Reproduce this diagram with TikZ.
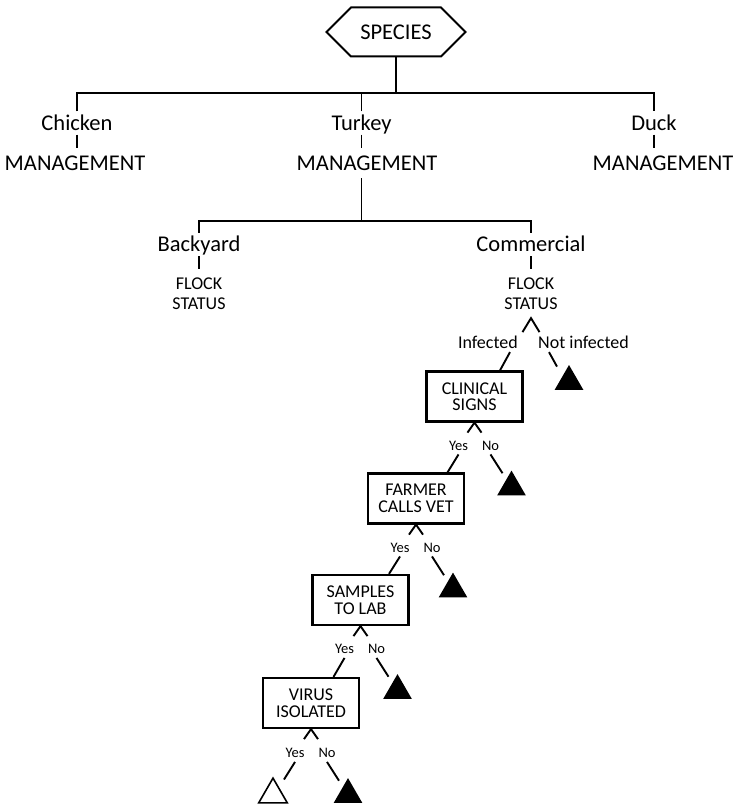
\documentclass[tikz,border=0pt]{standalone}
\usepackage{fontspec}
\setmainfont{Carlito}
\usetikzlibrary{shapes.geometric, shapes.symbols, positioning, calc}
\newcommand\bigtext{\fontsize{22.5}{27}\selectfont}
\newcommand\midtext{\fontsize{18}{20}\selectfont}
\newcommand\boxtext{\fontsize{18}{16.5}\selectfont}
\newcommand\smalltext{\fontsize{14.5}{16}\selectfont}
\tikzset{
  category/.style={font=\bigtext, text height=14pt, text depth=0pt, inner xsep=1pt, inner ysep=4.5pt},
  mgmt/.style={category, inner ysep=8pt},
  status/.style={font=\midtext, align=center, inner xsep=1pt, inner ysep=8.5pt},
  question/.style={draw, line width=2.2pt, minimum width=96pt, minimum height=50pt,
    align=center, font=\boxtext, inner sep=1pt},
  outcome/.style={font=\midtext, text height=11.6pt, text depth=0pt, inner xsep=1pt, inner ysep=3pt},
  answer/.style={font=\smalltext, text height=9.3pt, text depth=0pt, inner xsep=1pt, inner ysep=4pt},
  leaf/.style={regular polygon, regular polygon sides=3, minimum size=33pt, inner sep=0pt, fill=black},
  openleaf/.style={leaf, fill=none, draw, line width=1.6pt},
  branch/.style={line width=1.9pt}
}

\begin{document}
\begin{tikzpicture}[x=1pt, y=-1pt]
    \useasboundingbox (0,0) rectangle (735,808);
    % species and management
    \node[draw, signal, signal to=west and east, line width=2pt, minimum width=139pt,
      minimum height=49pt, font=\bigtext, inner sep=0pt] (species) at (396,32) {SPECIES};
    \node[category] (chicken) at (77,123) {Chicken};
    \node[category] (turkey) at (361.5,123) {Turkey};
    \node[category] (duck) at (654,123) {Duck};
    \node[mgmt] (mgmtC) at (75,163) {MANAGEMENT};
    \node[mgmt] (mgmtT) at (367,163) {MANAGEMENT};
    \node[mgmt] (mgmtD) at (663,163) {MANAGEMENT};
    \coordinate (bar) at (396,93);
    \draw[branch] (species.south) -- (bar);
    \draw[branch] (chicken.north) |- (bar) -| (duck.north);
    \draw[branch] (turkey.north) -- (turkey.north |- bar);
    \draw[branch] (chicken.south) -- (chicken.south |- mgmtC.north);
    \draw[branch] (turkey.south) -- (turkey.south |- mgmtT.north);
    \draw[branch] (duck.south) -- (duck.south |- mgmtD.north);

    % flock type
    \coordinate (bar2) at (361.5,221);
    \node[category] (backyard) at (199,244.5) {Backyard};
    \node[category] (commercial) at (531,244.5) {Commercial};
    \node[status] (flockB) at (199,293.5) {FLOCK\\STATUS};
    \node[status] (flockC) at (531,293.5) {FLOCK\\STATUS};
    \draw[branch] (turkey.south |- mgmtT.south) -- (bar2);
    \draw[branch] (backyard.north) |- (bar2) -| (commercial.north);
    \draw[branch] (backyard.south) -- (flockB.north);
    \draw[branch] (commercial.south) -- (flockC.north);

    % infected or not
    \draw[branch] ($(flockC.south)+(-8.5,14)$) -- (flockC.south) -- ($(flockC.south)+(8.5,14)$);
    \node[outcome, anchor=east] (infected) at ($(flockC.south)+(-12,25)$) {Infected};
    \node[outcome, anchor=west] (notinf) at ($(flockC.south)+(6,25)$) {Not infected};
    \node[question] (clinical) at (474.5,396.5) {CLINICAL\\SIGNS};
    \node[question] (farmer) at (416,498.5) {FARMER\\CALLS VET};
    \node[question] (samples) at (360.5,600) {SAMPLES\\TO LAB};
    \node[question] (virus) at (311,703) {VIRUS\\ISOLATED};
    \node[leaf] (t0) at (569,381.5) {};
    \draw[branch] ([xshift=-9pt]infected.south east) -- ([xshift=-19pt]infected.south east |- clinical.north);
    \draw[branch] ([xshift=12pt]notinf.south west) -- ($(t0.corner 1)+(-12,2)$);

    % clinical signs
    \draw[branch] ($(clinical.south)+(-7,10)$) -- (clinical.south) -- ($(clinical.south)+(7,10)$);
    \node[answer] (yes1) at ($(clinical.south)+(-16,23)$) {Yes};
    \node[answer] (no1) at ($(clinical.south)+(16,23)$) {No};
    \node[leaf] (t1) at ($(clinical.south)+(37,64.5)$) {};
    \draw[branch] (yes1.south) -- ([xshift=-11pt]yes1.south |- farmer.north);
    \draw[branch] (no1.south) -- ($(t1.corner 1)+(-9,3)$);

    % farmer calls vet
    \draw[branch] ($(farmer.south)+(-7,10)$) -- (farmer.south) -- ($(farmer.south)+(7,10)$);
    \node[answer] (yes2) at ($(farmer.south)+(-16,23)$) {Yes};
    \node[answer] (no2) at ($(farmer.south)+(16,23)$) {No};
    \node[leaf] (t2) at ($(farmer.south)+(37,64.5)$) {};
    \draw[branch] (yes2.south) -- ([xshift=-11pt]yes2.south |- samples.north);
    \draw[branch] (no2.south) -- ($(t2.corner 1)+(-9,3)$);

    % samples to lab
    \draw[branch] ($(samples.south)+(-7,10)$) -- (samples.south) -- ($(samples.south)+(7,10)$);
    \node[answer] (yes3) at ($(samples.south)+(-16,23)$) {Yes};
    \node[answer] (no3) at ($(samples.south)+(16,23)$) {No};
    \node[leaf] (t3) at ($(samples.south)+(37,64.5)$) {};
    \draw[branch] (yes3.south) -- ([xshift=-11pt]yes3.south |- virus.north);
    \draw[branch] (no3.south) -- ($(t3.corner 1)+(-9,3)$);

    % virus isolated
    \draw[branch] ($(virus.south)+(-7,10)$) -- (virus.south) -- ($(virus.south)+(7,10)$);
    \node[answer] (yes4) at ($(virus.south)+(-16,24)$) {Yes};
    \node[answer] (no4) at ($(virus.south)+(16,24)$) {No};
    \node[openleaf] (t5) at ($(virus.south)+(-38,65.5)$) {};
    \node[leaf] (t4) at ($(virus.south)+(37,65.5)$) {};
    \draw[branch] (yes4.south) -- ($(t5.corner 1)+(11,3)$);
    \draw[branch] (no4.south) -- ($(t4.corner 1)+(-9,3)$);
\end{tikzpicture}
\end{document}
